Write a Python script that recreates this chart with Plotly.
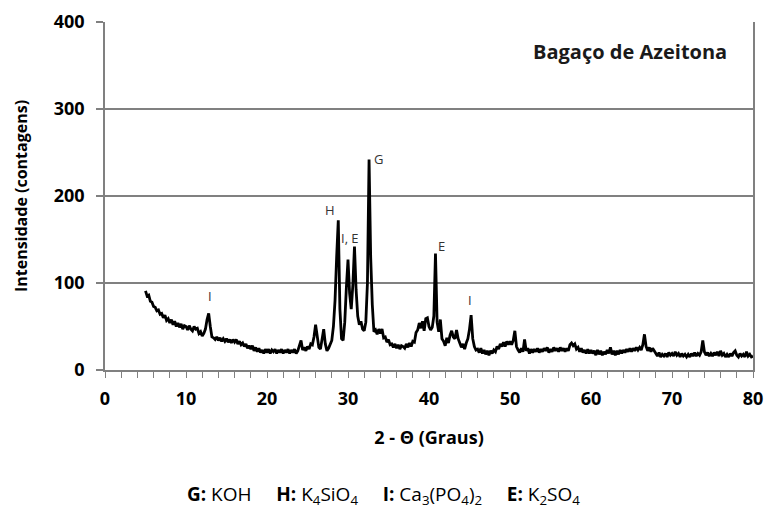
import plotly.graph_objects as go

# XRD pattern: 2-theta sampled from 5.0 to 80.0 in 0.2 degree steps
THETA_START = 5.0
THETA_STEP = 0.2
intensity = [
    91, 85, 86, 79, 78,     # 5
    73, 72, 68, 69, 64,     # 6
    65, 60, 63, 57, 59,     # 7
    54, 58, 52, 56, 50,     # 8
    54, 49, 53, 47, 51,     # 9
    50, 46, 51, 47, 45,     # 10
    50, 47, 48, 42, 44,     # 11
    39, 42, 47, 58, 65,     # 12
    50, 38, 37, 35, 38,     # 13
    34, 37, 33, 36, 33,     # 14
    36, 32, 35, 31, 35,     # 15
    32, 35, 30, 33, 29,     # 16
    31, 27, 30, 25, 28,     # 17
    24, 28, 22, 26, 21,     # 18
    25, 20, 23, 19, 24,     # 19
    20, 24, 19, 23, 21,     # 20
    24, 19, 23, 20, 24,     # 21
    19, 23, 20, 24, 19,     # 22
    23, 20, 24, 19, 22,     # 23
    27, 34, 23, 26, 22,     # 24
    27, 24, 30, 29, 38,     # 25
    52, 36, 26, 24, 34,     # 26
    47, 30, 22, 25, 30,     # 27
    34, 50, 80, 130, 172,   # 28
    70, 36, 34, 55, 95,     # 29
    127, 88, 70, 98, 142,   # 30
    92, 62, 52, 56, 47,     # 31
    45, 55, 100, 242, 130,  # 32
    75, 44, 46, 41, 47,     # 33
    42, 47, 37, 38, 32,     # 34
    35, 29, 30, 26, 30,     # 35
    25, 29, 24, 28, 27,     # 36
    25, 30, 26, 31, 27,     # 37
    33, 32, 43, 46, 54,     # 38
    48, 56, 45, 59, 60,     # 39
    50, 46, 49, 62, 134,    # 40
    55, 44, 58, 36, 33,     # 41
    28, 37, 31, 40, 45,     # 42
    38, 36, 46, 36, 31,     # 43
    26, 30, 24, 31, 36,     # 44
    47, 63, 36, 27, 23,     # 45
    24, 20, 25, 19, 23,     # 46
    18, 22, 17, 22, 19,     # 47
    23, 21, 27, 24, 30,     # 48
    27, 32, 27, 33, 29,     # 49
    33, 29, 34, 45, 27,     # 50
    23, 20, 25, 21, 35,     # 51
    22, 25, 19, 24, 20,     # 52
    24, 21, 25, 20, 24,     # 53
    21, 25, 22, 26, 20,     # 54
    24, 21, 26, 22, 25,     # 55
    21, 26, 22, 25, 21,     # 56
    25, 22, 29, 31, 28,     # 57
    30, 24, 26, 21, 25,     # 58
    20, 23, 19, 24, 19,     # 59
    23, 19, 22, 17, 23,     # 60
    18, 22, 17, 21, 18,     # 61
    23, 19, 26, 18, 22,     # 62
    17, 22, 18, 23, 19,     # 63
    23, 20, 24, 21, 25,     # 64
    21, 25, 22, 26, 23,     # 65
    26, 23, 29, 41, 27,     # 66
    22, 26, 21, 25, 22,     # 67
    19, 16, 20, 15, 18,     # 68
    16, 19, 15, 20, 17,     # 69
    19, 16, 21, 17, 19,     # 70
    15, 19, 16, 18, 15,     # 71
    18, 15, 19, 16, 20,     # 72
    16, 19, 17, 21, 34,     # 73
    21, 17, 20, 16, 19,     # 74
    16, 20, 17, 21, 16,     # 75
    22, 17, 19, 15, 18,     # 76
    15, 19, 16, 20, 22,     # 77
    17, 15, 19, 16, 18,     # 78
    15, 21, 16, 18, 15,     # 79
    16,                     # 80
]
two_theta = [round(THETA_START + i * THETA_STEP, 1) for i in range(len(intensity))]

# peak labels
peak_labels = ["I", "H", "I, E", "G", "E", "I"]
peak_x = [13.0, 27.8, 30.2, 33.8, 41.5, 45.1]
peak_y = [85, 184, 152, 242, 142, 80]

title_text = "Bagaço de Azeitona"
x_title = "2 - Θ (Graus)"
y_title = "Intensidade (contagens)"
SP = "&nbsp;&nbsp;&nbsp;&nbsp;&nbsp;"
legend_text = ("<b>G:</b> KOH" + SP + "<b>H:</b> K<sub>4</sub>SiO<sub>4</sub>" + SP +
               "<b>I:</b> Ca<sub>3</sub>(PO<sub>4</sub>)<sub>2</sub>" + SP +
               "<b>E:</b> K<sub>2</sub>SO<sub>4</sub>")

FONT = "Open Sans"
GRID = "#808080"

fig = go.Figure()
fig.add_trace(go.Scatter(x=two_theta, y=intensity, mode="lines",
                         line=dict(color="black", width=2.8),
                         showlegend=False, hoverinfo="skip"))

for lab, px, py in zip(peak_labels, peak_x, peak_y):
    fig.add_annotation(x=px, y=py, text=lab, showarrow=False,
                       font=dict(family=FONT, size=13, color="#333333"),
                       xanchor="center", yanchor="middle")

fig.add_annotation(x=0.963, y=0.914, xref="paper", yref="paper",
                   text="<b>" + title_text + "</b>", showarrow=False,
                   xanchor="right", yanchor="middle",
                   font=dict(family=FONT, size=20, color="#1a1a1a"))

fig.add_annotation(x=0.43, y=-0.36, xref="paper", yref="paper",
                   text=legend_text, showarrow=False,
                   xanchor="center", yanchor="middle",
                   font=dict(family=FONT, size=19, color="black"))

fig.update_layout(
    width=770, height=515,
    margin=dict(l=105, r=7, t=22, b=145),
    paper_bgcolor="white", plot_bgcolor="white",
    font=dict(family=FONT, color="black"),
    xaxis=dict(range=[0, 80], dtick=10, tick0=0,
               showgrid=False, zeroline=False,
               showline=True, linecolor=GRID, linewidth=1.5,
               ticks="outside", ticklen=6, tickcolor=GRID, tickwidth=1,
               ticklabelstandoff=6, ticklabeloverflow="allow",
               minor=dict(dtick=2, ticks="outside", ticklen=6,
                          tickcolor=GRID, tickwidth=1, showgrid=False),
               tickfont=dict(family=FONT, size=18, color="black", weight="bold"),
               title=dict(text="<b>" + x_title + "</b>", standoff=22,
                          font=dict(family=FONT, size=18, color="black"))),
    yaxis=dict(range=[0, 400], dtick=100, tick0=0,
               showgrid=True, gridcolor=GRID, gridwidth=1.5,
               zeroline=False,
               showline=True, linecolor=GRID, linewidth=1.5, mirror=True,
               ticks="outside", ticklen=7, tickcolor=GRID, tickwidth=1.5,
               ticklabelstandoff=8,
               tickfont=dict(family=FONT, size=18, color="black", weight="bold"),
               title=dict(text="<b>" + y_title + "</b>", standoff=22,
                          font=dict(family=FONT, size=16, color="black"))),
)

fig.write_html("out.html")
